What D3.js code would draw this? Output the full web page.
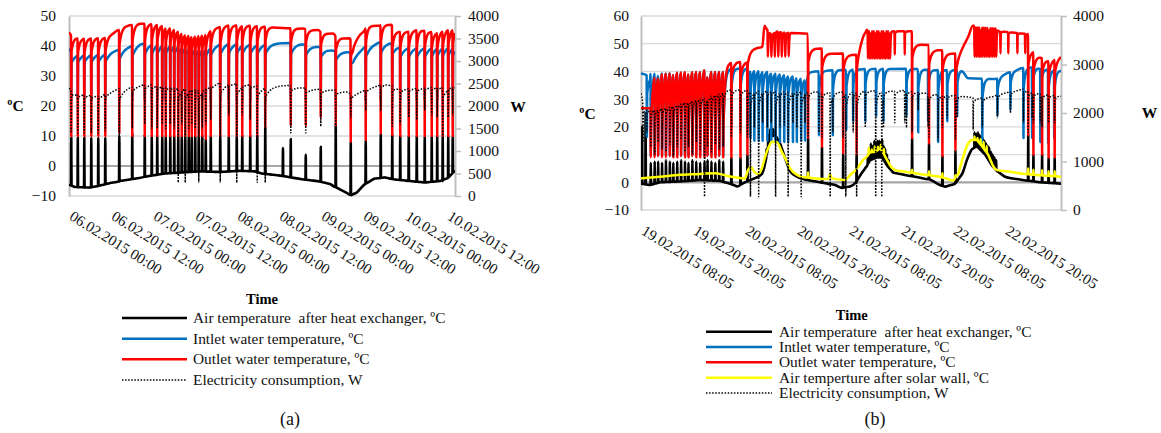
<!DOCTYPE html>
<html><head><meta charset="utf-8">
<script src="https://cdn.jsdelivr.net/npm/d3@7"></script>
<style>
body{margin:0;background:#fff;}
svg{display:block;}
svg text{white-space:pre;font-family:"Liberation Serif","Times New Roman",Times,serif;}
</style></head><body>
<svg id="c" width="1161" height="433"></svg>
<script>
// ================= Chart (a) data (time in hours from 06.02.2015 00:00) =================
const aTimeTicks = [0,12,24,36,48,60,72,84,96,108];
const aTimeLabels = ["06.02.2015 00:00","06.02.2015 12:00","07.02.2015 00:00","07.02.2015 12:00","08.02.2015 00:00","08.02.2015 12:00","09.02.2015 00:00","09.02.2015 12:00","10.02.2015 00:00","10.02.2015 12:00"];
const aTempTicks = [-10,0,10,20,30,40,50];
const aPowerTicks = [0,500,1000,1500,2000,2500,3000,3500,4000];
const aHours = 110.3;
const aOutletTop = [[0,44.5],[0.86,43],[3.14,42.5],[10.29,42.8],[12.29,44],[16,46.5],[20.29,47.5],[26,47.3],[30.29,46],[33.14,44.5],[36,44],[38.86,44.5],[41.71,46],[46,47],[53.14,46.8],[57.43,46.3],[63.14,45.9],[66.86,45.8],[68.86,45.3],[71.14,45.3],[72.29,44.2],[75.43,44.2],[76.57,42.6],[80.29,42.6],[81,40],[83,43.5],[84.6,45.5],[85,46.8],[88.9,46.8],[89.2,47.1],[92.2,47.1],[92.5,44.8],[97,44.8],[100,45.5],[105,44.5],[108,45.5],[110.3,46]];
const aInletTop = [[0,39],[0.9,37.5],[10.3,37.8],[14.6,39],[20.3,41],[30.3,41.5],[37.4,40],[46,41.3],[54.6,41],[63.1,41],[66,40.9],[71.7,39.8],[76,38.5],[80,38.1],[81.1,36.4],[84.6,39.8],[89,41.4],[92,41.2],[95,39.8],[101,39.8],[106,40.3],[110.3,40.5]];
const aAirBase = [[0,-6.2],[1.7,-7],[6,-7.2],[8.9,-6.5],[11.7,-5.7],[14.6,-5],[18.9,-4.2],[23.1,-3.3],[27.4,-2.5],[31.7,-2.2],[37.4,-1.8],[43.1,-2],[48.9,-1.6],[53.1,-1.8],[55.1,-2.5],[60.3,-3.2],[66,-4.3],[71.7,-5.2],[74.6,-6],[77.4,-7.8],[79.7,-9.2],[80.6,-9.7],[82,-9],[84.6,-6],[87.4,-4.2],[90.3,-3.8],[93.1,-4.5],[97.4,-5],[101.7,-5.5],[106,-5],[108.3,-4],[110.3,-1.5]];
const aPowerBase = [[0,2390],[1.7,2300],[8.9,2250],[14.6,2400],[23.1,2500],[30.3,2450],[37.4,2400],[43.1,2530],[50.3,2500],[56,2450],[63.1,2460],[68.9,2390],[74.6,2370],[79.7,2320],[80.9,2240],[86,2400],[90.3,2500],[94.6,2400],[100,2410],[110.3,2460]];
// defrost events: [hour, outlet min °C, inlet min °C, air peak °C, power min W]
const aEvents = [[0.57,10,22,9.5,1400],[2.43,10,22,9.5,1400],[4.29,10,22,9.5,1400],[6.29,10,22,9.5,1400],[8.29,10,22,9.5,1400],[10.29,10,22,9.5,1450],[14.29,11,22,10,300],[18.0,10,22,11,1500],[21.57,10,22,10.5,1600],[23.57,10,22,10,1500],[25.14,10,22,10,1500],[26.57,10,22,10,1600],[27.57,10,22,10,1500],[28.86,10,22,10,1600],[30.0,10,22,10,1500],[31.14,10,22,10,300],[32.14,10,22,10,1600],[33.14,10,22,10,300],[34.14,10,22,10,1500],[35.0,10,22,10,1600],[36.0,10,22,10,1500],[37.0,10,22,10,300],[38.0,10,22,10,1500],[39.0,9,22,9,1600],[40.43,10,22,10,1700],[43.14,10,22,10,300],[45.57,10,22,10,1800],[47.86,10,22,10,300],[49.43,10,22,10,1800],[51.71,10,22,10,1700],[53.71,10,22,10,300],[56.0,13,22,12.7,300],[63.29,13.7,22,9,1400],[67.57,13.7,22,3.7,1400],[71.86,16.4,22,6.4,1550],[76.14,13.7,22,13.7,1500],[80.43,8.1,22,8.1,1750],[84.71,8.7,22,8.7,1900],[89.0,10.9,22,10.9,1900],[92.29,10.3,22,10.3,1550],[94.57,10,22,10,1600],[97.0,10,22,10,1750],[99.29,10,22,10,1700],[101.57,10,22,10,1900],[103.57,10,22,10,1800],[105.14,10,22,10,1750],[106.71,10,22,10,300],[108.29,10,22,10,1750],[109.57,10,22,10,1800]];
const aAirSpikes = [[61.06,6]];

// ================= Chart (b) data (time in hours from 19.02.2015 08:05) =================
const bTimeTicks = [0,12,24,36,48,60,72,84];
const bTimeLabels = ["19.02.2015 08:05","19.02.2015 20:05","20.02.2015 08:05","20.02.2015 20:05","21.02.2015 08:05","21.02.2015 20:05","22.02.2015 08:05","22.02.2015 20:05"];
const bTempTicks = [-10,0,10,20,30,40,50,60];
const bPowerTicks = [0,1000,2000,3000,4000];
const bHours = 96.92;
const bOutletTop = [[0,26.7],[2.2,26.7],[2.35,39],[5,41.5],[10,42.2],[19,42.3],[20,43],[22,43.5],[24.5,43.5],[24.65,47.7],[28.0,48.9],[28.5,56.5],[29.1,55],[30.2,53],[31.2,54.5],[33,54],[34.5,54],[38.5,53.6],[38.65,48.3],[41.7,48.3],[41.85,46.5],[46.6,46.5],[46.75,46],[49.7,46],[49.85,46.5],[51.2,52.5],[52.1,55],[57.5,55],[58,54.5],[62.5,54.5],[62.65,50],[66.4,49.5],[66.55,47.7],[69.5,47.7],[69.65,46.5],[72.5,46.5],[72.65,44],[75.5,52.5],[76.6,56.5],[82.1,56],[82.5,54.5],[86,54],[89.3,53.5],[89.45,47.5],[90.5,47.5],[90.65,46],[92.5,45],[94,44],[95.4,44.5],[96.92,45.5]];
const bInletTop = [[0,39.3],[1.2,38.7],[1.7,37.9],[2.1,38],[2.3,41.5],[10,42],[19,42.3],[19.6,41],[25,41.1],[28,40.5],[32,39.5],[36,38.3],[38,37.5],[38.6,39.8],[45,40.5],[50,40.8],[55,41],[62,41],[68,40.5],[74,40.5],[75.5,37.5],[82,37.3],[84,39],[88,41.2],[90,41.5],[93,40.8],[96.92,40.3]];
const bAirBase = [[0,-0.5],[2.1,-1],[4.4,0],[9,0.3],[13.6,0.8],[18.2,0.5],[20.5,-0.5],[22.2,-1.5],[24,0],[26.3,1.5],[27.9,3],[28.8,8],[29.5,14],[30.2,17],[31.2,16.5],[32.1,14],[33.2,9],[34.4,4],[35.5,2.5],[37.8,1],[41.3,0],[44.8,-1],[46.4,-2],[48.2,-1.5],[49.6,0],[50.8,3],[51.7,5],[52.9,8],[54.5,9],[55.6,9],[56.8,6],[58.2,3.5],[59.8,3],[63.2,2],[66.7,1],[69,-1],[70.2,-1.6],[72.5,-0.5],[74.1,3],[75.2,8],[76.4,12],[77.5,13],[79.4,10],[81,6],[82.2,4],[84,2],[87.5,1],[92.1,0],[96.92,-0.5]];
const bSolarBase = [[0,1.4],[4.4,2],[9,2.7],[13.6,3],[17.1,3.3],[19.4,2.5],[21.7,1.8],[24,1.4],[24.7,4.5],[25.4,5.4],[26.3,3.5],[27,3],[27.9,5],[28.6,9],[29.5,12.8],[30.2,14.6],[31.4,14.4],[32.5,11],[33.5,8],[34.4,5],[36.2,2.5],[37.8,1.8],[40.2,1.4],[43.2,1.2],[43.6,3],[44.1,1.4],[47.1,0.8],[48.2,2.5],[49.9,5],[51.2,8],[52.9,10.8],[54.1,11],[55.2,12.3],[56.1,10],[57.5,6],[58.7,4.4],[61,3.8],[64.4,3],[69,2],[72,0.6],[73.2,3],[74.3,9],[75.5,14],[76.4,15.3],[77.5,15.3],[78.7,13],[80.1,10],[81.2,6],[82.2,4.4],[85.2,3.8],[89.8,2.8],[96.92,2]];
const bPowerBase = [[0,2400],[0.6,2100],[2,2060],[6,2130],[10,2230],[14.5,2330],[20,2480],[27,2470],[34.4,2450],[38.3,2450],[43.2,2420],[48.2,2440],[52.9,2460],[58.2,2450],[61,2470],[67,2390],[74,2350],[77.5,2300],[81.2,2337],[83.5,2405],[88.2,2490],[92,2400],[96.92,2350]];
const bFast = [[2.2,9,9.5,7,1300],[3.1,9,9.5,7.5,1150],[3.9,9.5,9.5,7.5,1400],[4.8,9,9.5,7,1250],[5.7,9,9.5,8,1200],[6.6,9.5,9.5,7.5,1350],[7.4,9,9.5,7,1100],[8.3,9,9.5,7.5,1300],[9.2,9.5,9.5,8,1450],[10.1,9,9.5,7.5,1200],[10.9,9,9.5,7,1300],[11.8,9.5,9.5,8,1150],[12.7,9,9.5,7.5,1400],[13.6,9,9.5,7,1250],[14.6,9,9.5,7.5,275],[15.3,9.5,9.5,8,1300],[16.2,9,9.5,7.5,1200],[17.1,9,9.5,7,1350],[18.0,9.5,9.5,8,1250],[18.9,9,9.5,7.5,1300]];
const bDeep = [[20.8,9,20,9,1500],[22.9,9,20,9,1600],[24.5,10,20,10,1500],[38.5,16,null,16,1500],[41.7,12.8,null,12.8,1500],[46.6,10.5,null,10.5,1500],[49.7,10,null,10,275],[62.5,15.9,null,15.9,1600],[66.4,14,null,14,1500],[69.5,9.5,null,9.5,1700],[72.5,11.6,null,11.6,1443],[89.3,17,null,17,1600],[90.5,10,null,10,1800],[92.5,10,null,10,1700],[94.0,9,null,9,1800],[95.4,9,null,9,1800]];
const bOutletZig = [[29.2,45.3],[30.0,45.3],[30.8,45.3],[31.6,45.3],[32.4,45.3],[33.2,45.3],[34.0,45.5],[52.3,44.7],[52.7,44.7],[53.0,44.7],[53.4,44.7],[53.8,44.7],[54.1,44.7],[54.5,44.7],[54.9,44.7],[55.2,44.7],[55.6,44.7],[56.0,44.7],[56.3,44.7],[56.7,44.7],[57.1,44.7],[57.4,44.7],[76.9,45.3],[77.3,45.3],[77.7,45.3],[78.1,45.3],[78.4,45.3],[78.8,45.3],[79.2,45.3],[79.6,45.3],[80.0,45.3],[80.3,45.3],[80.7,45.3],[81.1,45.3],[81.5,45.3],[81.9,45.3]];
const bOutletShallow = [[58.5,46],[60.8,46],[82.9,46.5],[84.7,46.5],[86.8,46.5],[88.6,46.5]];
const bInletDips = [[1.3,16.4],[25.2,16],[26.1,15],[27.1,15],[28.0,15],[29.1,15],[30.0,14.5],[31.0,14.5],[32.0,14.5],[33.0,14.5],[33.9,14.5],[35.0,14.5],[35.9,14.5],[36.9,15],[37.8,15],[41.0,17],[44.2,17],[47.3,19],[48.9,22],[51.7,22],[54.2,24],[55.9,22],[61.2,24],[63.9,18],[66.2,22],[68.5,14.5],[70.6,22],[72.9,24],[78.7,14.7],[82.2,24],[85.2,26],[88.2,16],[90.2,16],[92.1,14.5],[93.9,14],[95.3,16]];
const bAirSpikes = [[0.2,20],[1.0,25],[28.9,12],[29.3,17],[29.7,19],[30.1,19.5],[30.5,19],[30.9,18],[31.3,16],[52.3,10],[52.7,12],[53.0,14],[53.4,13],[53.8,15],[54.1,14],[54.5,15],[54.9,15],[55.2,14.5],[55.6,15.5],[56.0,13],[56.3,12],[56.7,10],[57.1,8],[76.9,18],[77.3,17.5],[77.7,18],[78.1,17],[78.4,16.5],[78.8,16],[79.2,15],[79.6,14],[80.0,13],[80.3,12.5],[80.7,11],[81.1,10],[81.5,9],[81.9,8]];
const bSolarBumps = [[38.5,3.5],[62.5,4.5],[66.4,4],[69.5,3.3],[72.5,2.5],[89.3,5],[90.5,4.5],[92.5,4.3],[94.0,4],[95.4,4],[52.5,12.5],[53.2,11.8],[53.9,13],[54.6,12.8],[55.3,13.5],[56.0,12],[76.9,16.5],[77.6,16],[78.3,15.5],[79.0,14.5],[79.7,13]];
const bPowerDips = [[0.4,1400],[1.3,1600],[25.2,275],[26.1,1700],[27.1,275],[28.0,1800],[29.1,1700],[30.0,1800],[31.0,275],[32.0,1700],[33.0,1750],[33.9,275],[35.0,1800],[35.9,1700],[36.9,275],[37.8,1800],[41.0,1600],[43.6,275],[44.2,1600],[47.2,275],[48.9,1600],[51.7,1700],[54.1,275],[55.5,275],[55.9,1700],[58.5,1800],[60.8,1800],[61.2,1700],[63.9,2060],[66.2,1700],[68.5,1443],[70.6,1900],[72.9,1900],[76.6,1650],[78.7,1700],[82.2,1900],[85.2,2000],[88.2,1800],[90.2,1900],[92.1,1800]];

const aLegend = ["Air temperature  after heat exchanger, ºC","Intlet water temperature, ºC","Outlet water temperature, ºC","Electricity consumption, W"];
const bLegend = ["Air temperature  after heat exchanger, ºC","Intlet water temperature, ºC","Outlet water temperature, ºC","Air temperture after solar wall, ºC","Electricity consumption, W"];

// ================= helpers =================
const FONT = '"Liberation Serif","Times New Roman",Times,serif';
const C = {air:'#000000', inlet:'#0070C0', outlet:'#FF0000', solar:'#FFFF00', power:'#000000'};

function buildLine(base, events, o) {
  const B = d3.scaleLinear().domain(base.map(d => d[0])).range(base.map(d => d[1])).clamp(true);
  const ev = events.filter(e => e.v != null).sort((a, b) => a.t - b.t);
  const pts = [];
  let last = null, from = o.t0;
  const val = h => B(h) - (last && h >= last.tr ? last.amp * Math.exp(-(h - last.tr) / last.tau) : 0);
  pts.push([from, val(from)]);
  const fill = (a, b) => {
    const ts = base.map(d => d[0]);
    if (last) [0.35, 0.8, 1.5, 2.5, 4].forEach(f => ts.push(last.tr + last.tau * f));
    ts.filter(t => t > a + 1e-3 && t < b - 1e-3).sort((p, q) => p - q).forEach(t => pts.push([t, val(t)]));
  };
  for (const e of ev) {
    if (e.t < from + 0.03) continue;
    fill(from, e.t);
    pts.push([e.t, val(e.t)]);
    const tb = e.t + o.down; pts.push([tb, e.v]);
    const tr = tb + o.up, target = B(tr), r = e.v + e.rise * (target - e.v);
    pts.push([tr, r]);
    last = {tr, amp: target - r, tau: e.tau};
    from = tr;
  }
  fill(from, o.t1);
  pts.push([o.t1, val(o.t1)]);
  return pts;
}
const ev = (arr, col, rise, tau) => arr.map(d => ({t: d[0], v: d[col], rise, tau}));

const svg = d3.select('#c');
svg.append('rect').attr('width', 1161).attr('height', 433).attr('fill', '#fff');

function txt(sel) { return sel.style('font-family', FONT); }

function drawChart(c) {
  const x = d3.scaleLinear().domain([0, c.hours]).range([c.x0, c.x1]);
  const y = d3.scaleLinear().domain([c.tTicks[0], c.tTicks[c.tTicks.length - 1]]).range([c.yb, c.yt]);
  const yW = d3.scaleLinear().domain([0, 4000]).range([c.yb, c.yt]);
  const g = svg.append('g');
  g.append('g').selectAll('line').data(c.tTicks).join('line')
    .attr('x1', c.x0).attr('x2', c.x1).attr('y1', d => y(d)).attr('y2', d => y(d))
    .attr('stroke', d => d === 0 ? '#a6a6a6' : '#d9d9d9')
    .attr('stroke-width', d => d === 0 ? 2.2 : 1.3);

  const gl = g.append('g').attr('transform', `translate(${c.x0},0)`)
    .call(d3.axisLeft(y).tickValues(c.tTicks).tickFormat(d3.format('d')).tickSize(0).tickSizeOuter(0).tickPadding(c.x0 - c.leftLabelX));
  gl.select('.domain').attr('stroke', '#bfbfbf').attr('stroke-width', 2);
  txt(gl.selectAll('text')).attr('font-size', 15.5).attr('fill', '#111').attr('dy', '0.32em');

  const gr = g.append('g').attr('transform', `translate(${c.x1},0)`)
    .call(d3.axisRight(yW).tickValues(c.wTicks).tickFormat(d3.format('d')).tickSize(6).tickSizeOuter(0).tickPadding(c.rightLabelX - c.x1 - 6));
  gr.select('.domain').attr('stroke', '#bfbfbf').attr('stroke-width', 2);
  gr.selectAll('.tick line').attr('stroke', '#bfbfbf').attr('stroke-width', 1.5);
  txt(gr.selectAll('text')).attr('font-size', 15.5).attr('fill', '#111').attr('dy', '0.32em');

  const gb = g.append('g').attr('transform', `translate(0,${c.yb})`)
    .call(d3.axisBottom(x).tickValues(c.xTicks).tickFormat((d, i) => c.xLabels[i]).tickSize(0).tickSizeOuter(0));
  gb.select('.domain').remove();
  txt(gb.selectAll('text')).attr('font-size', 15).attr('fill', '#111')
    .attr('text-anchor', 'start').attr('x', 0).attr('y', 0).attr('dy', 0)
    .attr('transform', `translate(-1,${c.labelDy}) rotate(${c.angle})`);

  const clipId = c.id + '-clip';
  g.append('clipPath').attr('id', clipId).append('rect')
    .attr('x', c.x0).attr('y', c.yt - 3).attr('width', c.x1 - c.x0).attr('height', c.yb - c.yt + 6);
  const dg = g.append('g').attr('clip-path', `url(#${clipId})`);
  const lineT = d3.line().x(d => x(d[0])).y(d => y(d[1])).curve(d3.curveMonotoneX);
  const lineW = d3.line().x(d => x(d[0])).y(d => yW(d[1])).curve(d3.curveMonotoneX);
  c.series.forEach(s => {
    dg.append('path').attr('d', s.power ? lineW(s.pts) : lineT(s.pts))
      .attr('fill', 'none').attr('stroke', s.color).attr('stroke-width', s.width)
      .attr('stroke-linejoin', 'round')
      .attr('stroke-dasharray', s.dash || null);
  });

  txt(g.append('text')).attr('x', c.cLabel[0]).attr('y', c.cLabel[1]).attr('text-anchor', 'middle')
    .attr('font-weight', 'bold').attr('font-size', 15.5).text('ºC');
  txt(g.append('text')).attr('x', c.wLabel[0]).attr('y', c.wLabel[1]).attr('text-anchor', 'middle')
    .attr('font-weight', 'bold').attr('font-size', 15.5).text('W');
  txt(g.append('text')).attr('x', c.timeLabel[0]).attr('y', c.timeLabel[1]).attr('text-anchor', 'middle')
    .attr('font-weight', 'bold').attr('font-size', 14.5).text('Time');

  const lg = g.append('g');
  c.legend.forEach((it, i) => {
    const ly = c.legY[i];
    lg.append('line').attr('x1', c.legX[0]).attr('x2', c.legX[1]).attr('y1', ly).attr('y2', ly)
      .attr('stroke', it.color).attr('stroke-width', it.dash ? 1.5 : 2.5).attr('stroke-dasharray', it.dash || null);
    txt(lg.append('text')).attr('x', c.legX[2]).attr('y', ly + 5).attr('font-size', 15.4)
      .attr('fill', '#111').text(it.label);
  });
  txt(g.append('text')).attr('x', c.capPos[0]).attr('y', c.capPos[1]).attr('text-anchor', 'middle')
    .attr('font-size', 18).attr('fill', '#111').text(c.caption);
}

const DOT = '1.5 1.6';
const oa = {t0: 0, t1: aHours, down: 0.08, up: 0.08};
const aAir = buildLine(aAirBase, [...ev(aEvents, 3, 1, 0.3), ...ev(aAirSpikes, 1, 1, 0.3)], oa);
const aIn = buildLine(aInletTop, ev(aEvents, 2, 0.8, 1.2), oa);
const aOut = buildLine(aOutletTop, ev(aEvents, 1, 0.85, 0.5), oa);
const aPow = buildLine(aPowerBase, ev(aEvents, 4, 0.88, 1.5), oa);

drawChart({
  id: 'a', x0: 69, x1: 455, yt: 16, yb: 196, hours: aHours,
  tTicks: aTempTicks, wTicks: aPowerTicks, xTicks: aTimeTicks, xLabels: aTimeLabels,
  leftLabelX: 56, rightLabelX: 468, labelDy: 23, angle: 32,
  cLabel: [15.5, 111], wLabel: [518, 112], timeLabel: [262, 304],
  series: [
    {pts: aAir, color: C.air, width: 2.6},
    {pts: aIn, color: C.inlet, width: 2.5},
    {pts: aOut, color: C.outlet, width: 2.5},
    {pts: aPow, color: C.power, width: 1.5, dash: DOT, power: true}
  ],
  legend: [
    {label: aLegend[0], color: C.air}, {label: aLegend[1], color: C.inlet},
    {label: aLegend[2], color: C.outlet}, {label: aLegend[3], color: C.power, dash: DOT}
  ],
  legX: [122, 187, 193], legY: [318, 338.7, 359.3, 380],
  capPos: [290, 425], caption: '(a)'
});

const ob = {t0: 0, t1: bHours, down: 0.06, up: 0.06};
const bAir = buildLine(bAirBase, [...ev(bFast, 3, 1, 0.3), ...ev(bDeep, 3, 1, 0.3), ...ev(bAirSpikes, 1, 1, 0.3)], ob);
const bIn = buildLine(bInletTop, [...ev(bFast, 2, 0.3, 0.35), ...ev(bDeep, 2, 0.7, 0.35), ...ev(bInletDips, 1, 0.7, 0.35)], ob);
const bOut = buildLine(bOutletTop, [...ev(bFast, 1, 0.3, 0.35), ...ev(bDeep, 1, 0.85, 0.5), ...ev(bOutletZig, 1, 0.2, 0.1), ...ev(bOutletShallow, 1, 0.9, 0.2)], ob);
const bSol = buildLine(bSolarBase, ev(bSolarBumps, 1, 1, 0.3), ob);
const bPow = buildLine(bPowerBase, [...ev(bFast, 4, 0.85, 0.5), ...ev(bDeep, 4, 0.85, 0.5), ...ev(bPowerDips, 1, 0.85, 0.5)], ob);

drawChart({
  id: 'b', x0: 641, x1: 1061, yt: 16, yb: 210, hours: bHours,
  tTicks: bTempTicks, wTicks: bPowerTicks, xTicks: bTimeTicks, xLabels: bTimeLabels,
  leftLabelX: 629, rightLabelX: 1073, labelDy: 23.5, angle: 32,
  cLabel: [587.5, 119], wLabel: [1149.5, 118], timeLabel: [851.7, 320],
  series: [
    {pts: bAir, color: C.air, width: 2.6},
    {pts: bIn, color: C.inlet, width: 2.5},
    {pts: bOut, color: C.outlet, width: 2.5},
    {pts: bSol, color: C.solar, width: 2.5},
    {pts: bPow, color: C.power, width: 1.5, dash: DOT, power: true}
  ],
  legend: [
    {label: bLegend[0], color: C.air}, {label: bLegend[1], color: C.inlet},
    {label: bLegend[2], color: C.outlet}, {label: bLegend[3], color: C.solar},
    {label: bLegend[4], color: C.power, dash: DOT}
  ],
  legX: [706, 772, 779], legY: [331.7, 347, 362.3, 377.7, 393],
  capPos: [875, 425], caption: '(b)'
});
</script></body></html>
